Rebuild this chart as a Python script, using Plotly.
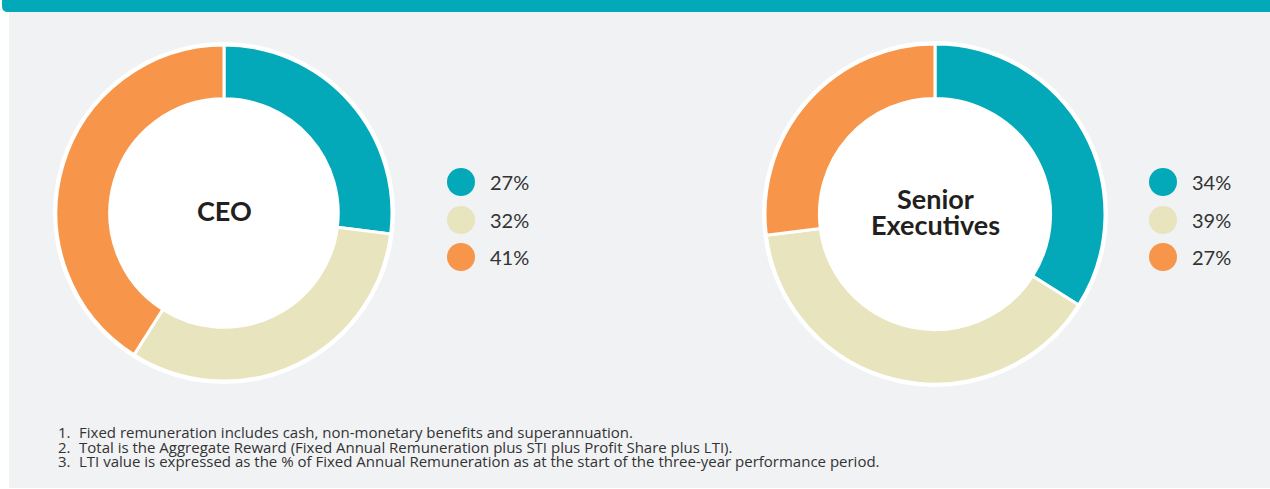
import plotly.graph_objects as go

W, H = 1270, 489

# ---- data ----
components = ["Fixed", "STI", "LTI"]
ceo_values = [27, 32, 41]
ceo_labels = ["27%", "32%", "41%"]
exec_values = [34, 39, 27]
exec_labels = ["34%", "39%", "27%"]
colors = ["#03a9b9", "#e8e4be", "#f7964a"]
group_titles = [["CEO"], ["Senior", "Executives"]]
footnotes = [
    "Fixed remuneration includes cash, non-monetary benefits and superannuation.",
    "Total is the Aggregate Reward (Fixed Annual Remuneration plus STI plus Profit Share plus LTI).",
    "LTI value is expressed as the % of Fixed Annual Remuneration as at the start of the three-year performance period.",
]

FONT = "Lato, 'Open Sans', sans-serif"
FOOT_FONT = "'Open Sans', sans-serif"
TXT = "#333333"

def dom(cx, cy, r):
    return dict(x=[(cx - r) / W, (cx + r) / W], y=[1 - (cy + r) / H, 1 - (cy - r) / H])

fig = go.Figure()

pies = [
    (ceo_values, 224, 213, 168),
    (exec_values, 935, 214, 170),
]
for vals, cx, cy, r in pies:
    fig.add_trace(go.Pie(
        labels=components, values=vals, sort=False, direction="clockwise", rotation=0,
        hole=0.68, marker=dict(colors=colors, line=dict(color="white", width=3)),
        textinfo="none", hoverinfo="label+percent", showlegend=False,
        domain=dom(cx, cy, r),
    ))

# legend circles
legend_ys = [182, 220, 257]
legend_sets = [(461, ceo_labels), (1163, exec_labels)]
for lx, labs in legend_sets:
    fig.add_trace(go.Scatter(
        x=[lx] * len(labs), y=legend_ys, mode="markers",
        marker=dict(size=28, color=colors, line=dict(width=0)),
        showlegend=False, hoverinfo="skip",
    ))

annotations = []
for lx, labs in legend_sets:
    for y, t in zip(legend_ys, labs):
        annotations.append(dict(x=lx + 27, y=y, xref="x", yref="y", text=t, showarrow=False,
                                xanchor="left", yanchor="middle",
                                font=dict(family=FONT, size=20, color=TXT)))

# center titles
for (vals, cx, cy, r), lines in zip(pies, group_titles):
    n = len(lines)
    for k, t in enumerate(lines):
        y = cy - 3 + (k - (n - 1) / 2) * 26
        annotations.append(dict(x=cx, y=y, xref="x", yref="y", text="<b>" + t + "</b>", showarrow=False,
                                xanchor="center", yanchor="middle",
                                font=dict(family=FONT, size=27, color="#231f20")))

# footnotes
for i, (y, t) in enumerate(zip([432, 446.5, 461], footnotes)):
    annotations.append(dict(x=56, y=y, xref="x", yref="y", text=f"{i+1}.", showarrow=False,
                            xanchor="left", yanchor="middle", font=dict(family=FOOT_FONT, size=15, color=TXT)))
    annotations.append(dict(x=77, y=y, xref="x", yref="y", text=t, showarrow=False,
                            xanchor="left", yanchor="middle", font=dict(family=FOOT_FONT, size=15, color=TXT)))

shapes = [
    dict(type="rect", xref="x", yref="y", x0=9, x1=1270, y0=12, y1=488,
         fillcolor="#f1f2f4", line=dict(width=0), layer="below"),
    dict(type="path", xref="x", yref="y",
         path="M 2 0 L 1270 0 L 1270 12 L 8 12 Q 2 12 2 6 Z",
         fillcolor="#03a9b9", line=dict(width=0), layer="below"),
]
for vals, cx, cy, r in pies:
    shapes.append(dict(type="circle", xref="x", yref="y", x0=cx - r - 3, x1=cx + r + 3,
                       y0=cy - r - 3, y1=cy + r + 3, fillcolor="white", line=dict(width=0), layer="below"))

fig.update_layout(
    width=W, height=H, margin=dict(l=0, r=0, t=0, b=0),
    paper_bgcolor="white", plot_bgcolor="rgba(0,0,0,0)",
    xaxis=dict(range=[0, W], visible=False, fixedrange=True),
    yaxis=dict(range=[H, 0], visible=False, fixedrange=True),
    shapes=shapes, annotations=annotations, showlegend=False,
    font=dict(family=FONT),
)

fig.write_html("out.html", config={"displayModeBar": False},
               post_script="document.body.style.margin='0';document.body.style.overflow='hidden';")
